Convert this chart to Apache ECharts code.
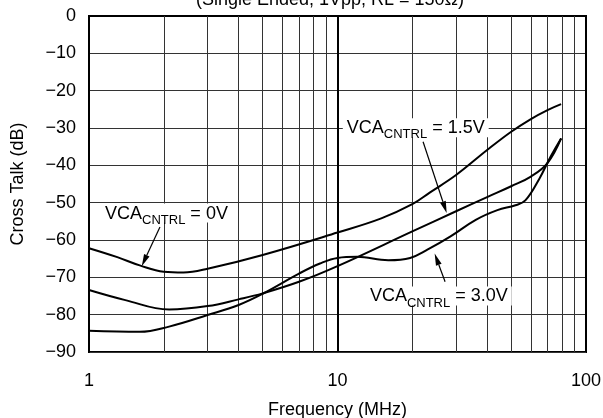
<!DOCTYPE html>
<html>
<head>
<meta charset="utf-8">
<script src="https://cdn.jsdelivr.net/npm/echarts@6/dist/echarts.min.js"></script>
<style>
  html, body { margin: 0; padding: 0; background: #fff; }
  #chart { width: 603px; height: 418px; }
</style>
</head>
<body>
<div id="chart"></div>
<script>
// VCA_CNTRL = 0V
const freq0V = [1, 1.3, 1.6, 2.0, 2.4, 3, 5, 10, 15, 20, 23.5, 30, 40, 50, 60, 70, 79.4]
const xtalk0V = [-62.2, -64.6, -66.8, -68.5, -68.7, -67.7, -64.0, -58.0, -54.2, -50.4, -47.3, -42.6, -35.9, -31.0, -27.6, -25.2, -23.6]
// VCA_CNTRL = 1.5V
const freq15V = [1, 1.4, 2.1, 3, 4, 5, 7, 10, 20, 30, 40, 50, 60, 70, 79.4]
const xtalk15V = [-73.4, -76.1, -78.6, -77.7, -75.9, -74.3, -71.2, -67.0, -57.7, -52.3, -48.5, -45.6, -43.0, -39.4, -32.8]
// VCA_CNTRL = 3.0V
const freq30V = [1, 1.6, 2.1, 3, 4, 5, 7, 8.5, 10, 12, 16, 19.6, 23, 28.4, 36, 44, 52, 57, 65, 72, 79.4]
const xtalk30V = [-84.3, -84.6, -83.2, -80.1, -77.4, -74.4, -69.0, -66.3, -64.8, -64.5, -65.4, -64.8, -62.6, -59.1, -54.6, -52.0, -50.7, -49.4, -43.5, -37.7, -32.8]

// minor log grid lines
const minorFreqs = [2, 3, 4, 5, 6, 7, 8, 9, 20, 30, 40, 50, 60, 70, 80, 90]

// annotations: label start [freq, dB], arrow start, arrow tip
const notes = [
  { volt: '0V', at: [1.16, -52.8], from: [1.93, -56.5], to: [1.63, -67.0] },
  { volt: '1.5V', at: [10.9, -29.9], from: [22.1, -33.7], to: [27.5, -52.8] },
  { volt: '3.0V', at: [13.5, -75.0], from: [27.1, -71.2], to: [24.6, -63.6] }
]

const FONT = 'Liberation Sans'
const pair = (xs, ys) => xs.map((x, i) => [x, ys[i]])

const chart = echarts.init(document.getElementById('chart'))

const curve = (name, data) => ({
  name,
  type: 'line',
  data,
  showSymbol: false,
  smooth: 0.4,
  silent: true,
  z: 5,
  lineStyle: { color: '#000', width: 2 }
})

const option = {
  animation: false,
  grid: {
    left: 89,
    right: 17,
    top: 16,
    bottom: 66,
    outerBoundsMode: 'none',
    containLabel: false,
    show: true,
    borderColor: '#000',
    borderWidth: 2
  },
  xAxis: {
    type: 'log',
    logBase: 10,
    min: 1,
    max: 100,
    name: 'Frequency (MHz)',
    nameLocation: 'middle',
    nameGap: 49,
    nameTextStyle: { fontSize: 18, fontFamily: FONT, color: '#000' },
    axisLine: { lineStyle: { color: '#000', width: 2 } },
    axisTick: { show: false },
    axisLabel: { fontSize: 18, fontFamily: FONT, color: '#000', margin: 20 },
    splitLine: { show: true, lineStyle: { color: '#000', width: 2 } }
  },
  yAxis: {
    type: 'value',
    min: -90,
    max: 0,
    interval: 10,
    name: 'Cross Talk (dB)',
    nameLocation: 'middle',
    nameGap: 62,
    nameTextStyle: { fontSize: 18, fontFamily: FONT, color: '#000' },
    axisLine: { show: true, lineStyle: { color: '#000', width: 2 } },
    axisTick: { show: false },
    axisLabel: {
      fontSize: 18,
      fontFamily: FONT,
      color: '#000',
      margin: 13,
      formatter: v => (v < 0 ? '\u2212' + Math.abs(v) : String(v))
    },
    splitLine: { show: true, lineStyle: { color: '#333', width: 1 } }
  },
  series: [
    Object.assign(curve('0V', pair(freq0V, xtalk0V)), {
      markLine: {
        silent: true,
        symbol: 'none',
        label: { show: false },
        lineStyle: { color: '#333', width: 1, type: 'solid' },
        emphasis: { disabled: true },
        data: minorFreqs.map(f => ({ xAxis: f }))
      }
    }),
    curve('1.5V', pair(freq15V, xtalk15V)),
    curve('3.0V', pair(freq30V, xtalk30V))
  ]
}

chart.setOption(option)

// title (cut off at the top edge in the original)
const graphics = [{
  type: 'text',
  silent: true,
  style: {
    text: '(Single Ended, 1Vpp, RL = 150\u03A9)',
    x: 330,
    y: 0,
    align: 'center',
    verticalAlign: 'middle',
    fill: '#000',
    font: '18px ' + FONT
  }
}]

notes.forEach(n => {
  const p = chart.convertToPixel({ gridIndex: 0 }, n.at)
  const a = chart.convertToPixel({ gridIndex: 0 }, n.from)
  const b = chart.convertToPixel({ gridIndex: 0 }, n.to)
  graphics.push({
    type: 'text',
    silent: true,
    z: 10,
    style: {
      text: '{m|VCA}{s|CNTRL}{m| = ' + n.volt + '}',
      x: p[0] - 4,
      y: p[1],
      align: 'left',
      verticalAlign: 'middle',
      backgroundColor: '#fff',
      padding: [1, 4, 0, 4],
      rich: {
        m: { fontSize: 18, fontFamily: FONT, lineHeight: 18, verticalAlign: 'top', fill: '#000' },
        s: { fontSize: 13, fontFamily: FONT, lineHeight: 13, padding: [9, 0, 0, 0], verticalAlign: 'top', fill: '#000' }
      }
    }
  })
  // arrow shaft + head
  const dx = b[0] - a[0], dy = b[1] - a[1]
  const len = Math.sqrt(dx * dx + dy * dy)
  const ux = dx / len, uy = dy / len
  const hl = 12, hw = 3
  const bx = b[0] - ux * hl, by = b[1] - uy * hl
  graphics.push({
    type: 'line',
    silent: true,
    z: 11,
    shape: { x1: a[0], y1: a[1], x2: bx, y2: by },
    style: { stroke: '#000', lineWidth: 1.2 }
  })
  graphics.push({
    type: 'polygon',
    silent: true,
    z: 11,
    shape: { points: [[b[0], b[1]], [bx - uy * hw, by + ux * hw], [bx + uy * hw, by - ux * hw]] },
    style: { fill: '#000' }
  })
})

chart.setOption({ graphic: graphics })
</script>
</body>
</html>
